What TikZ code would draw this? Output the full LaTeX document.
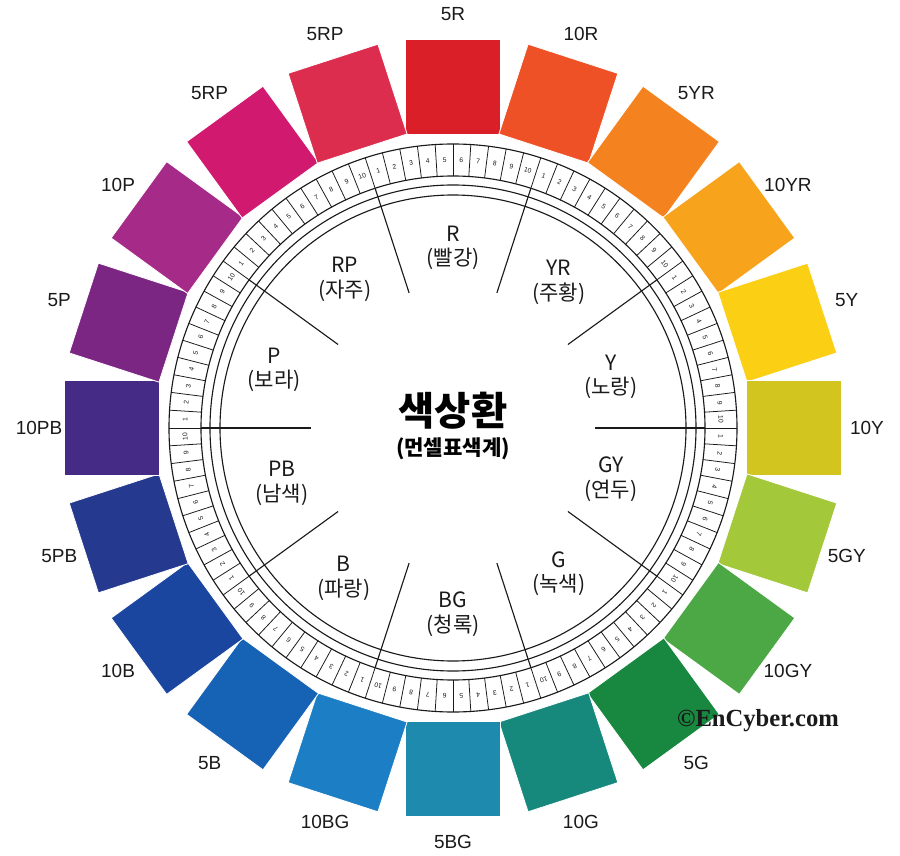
\documentclass[tikz,border=0pt]{standalone}
\usepackage{fontspec}
\setmainfont{Liberation Sans}
\newfontfamily\krfont{Noto Sans CJK KR}
\newfontfamily\cpfont{Liberation Serif}
\usetikzlibrary{positioning}
\definecolor{hwink}{HTML}{1A1A1A}
\definecolor{hwrA}{HTML}{DA1F28}
\definecolor{hwrB}{HTML}{EE5125}
\definecolor{hwyrA}{HTML}{F4831F}
\definecolor{hwyrB}{HTML}{F7A31C}
\definecolor{hwyA}{HTML}{FBCF14}
\definecolor{hwyB}{HTML}{D3C520}
\definecolor{hwgyA}{HTML}{A3C83A}
\definecolor{hwgyB}{HTML}{4CA745}
\definecolor{hwgA}{HTML}{18873F}
\definecolor{hwgB}{HTML}{17897C}
\definecolor{hwbgA}{HTML}{1E8BAE}
\definecolor{hwbgB}{HTML}{1C7EC4}
\definecolor{hwbA}{HTML}{1662B4}
\definecolor{hwbB}{HTML}{1B46A0}
\definecolor{hwpbA}{HTML}{253A8E}
\definecolor{hwpbB}{HTML}{452A86}
\definecolor{hwpA}{HTML}{7B2683}
\definecolor{hwpB}{HTML}{A62B88}
\definecolor{hwrpA}{HTML}{D11A6F}
\definecolor{hwrpB}{HTML}{DC2D4F}
\tikzset{
  hw text/.style={font=\fontsize{13.5}{15}\selectfont, text=hwink},
  hw square/.style={draw=white, line width=0.6pt, minimum size=2.36cm, inner sep=0pt},
  hw rule/.style={draw=hwink, line width=0.8pt},
  hw thin/.style={draw=hwink, line width=0.55pt},
  hw num/.style={font=\fontsize{4.8}{5}\selectfont, text=hwink, inner sep=0pt},
  hw sector/.style={font=\krfont\fontsize{15}{17.5}\selectfont, text=hwink, align=center},
  hw title/.style={font=\krfont\bfseries\fontsize{28}{30}\selectfont, text=black},
  hw sub/.style={font=\krfont\bfseries\fontsize{15}{17}\selectfont, text=black},
  hw mark/.style={font=\cpfont\bfseries\fontsize{17.5}{19}\selectfont, text=hwink}
}

\begin{document}
\begin{tikzpicture}[hw text, x=0.025cm, y=0.025cm]
  \useasboundingbox (-453,-427) rectangle (447,428);
  \fill[white] (-453,-427) rectangle (447,428);
  % outer squares
  \foreach \k/\col/\lab in {0/hwrA/5R,1/hwrB/10R,2/hwyrA/5YR,3/hwyrB/10YR,
      4/hwyA/5Y,5/hwyB/10Y,6/hwgyA/5GY,7/hwgyB/10GY,8/hwgA/5G,9/hwgB/10G,
      10/hwbgA/5BG,11/hwbgB/10BG,12/hwbA/5B,13/hwbB/10B,14/hwpbA/5PB,
      15/hwpbB/10PB,16/hwpA/5P,17/hwpB/10P,18/hwrpA/5RP,19/hwrpB/5RP} {
    \node[hw square, fill=\col, rotate=-18*\k] (sq\k) at (90-18*\k:341) {};
    \node (lab\k) at (90-18*\k:414) {\lab};
  }
  % scale ring
  \draw[hw rule, fill=white] (0,0) circle (284);
  \draw[hw rule] (0,0) circle (252);
  \draw[hw rule] (0,0) circle (243);
  \draw[hw rule] (0,0) circle (233);
  \foreach \k in {0,...,99}
    \draw[hw thin] (108-3.6*\k:252) -- (108-3.6*\k:284);
  \foreach \s in {0,...,9}
    \foreach \i in {1,...,10} {
      \pgfmathsetmacro\a{108-36*\s-3.6*(\i-0.5)}
      \node[hw num, rotate=\a-90] (n\s-\i) at (\a:268) {\i};
    }
  % sectors
  \foreach \s in {0,...,9}
    \draw[hw rule] (108-36*\s:142) -- (108-36*\s:252);
  \foreach \s/\r/\lab/\kr in {0/180/R/빨강,1/180/YR/주황,2/166/Y/노랑,3/166/GY/연두,
      4/180/G/녹색,5/186/BG/청록,6/186/B/파랑,7/180/PB/남색,8/188/P/보라,9/184/RP/자주}
    \node[hw sector] (sec\s) at (90-36*\s:\r) {\lab\\(\kr)};
  % centre
  \node[hw title] (title) at (0,17) {색상환};
  \node[hw sub, below=-1pt of title] (sub) {(먼셀표색계)};
  \node[hw mark] (mark) at (305,-293) {©EnCyber.com};
\end{tikzpicture}
\end{document}
